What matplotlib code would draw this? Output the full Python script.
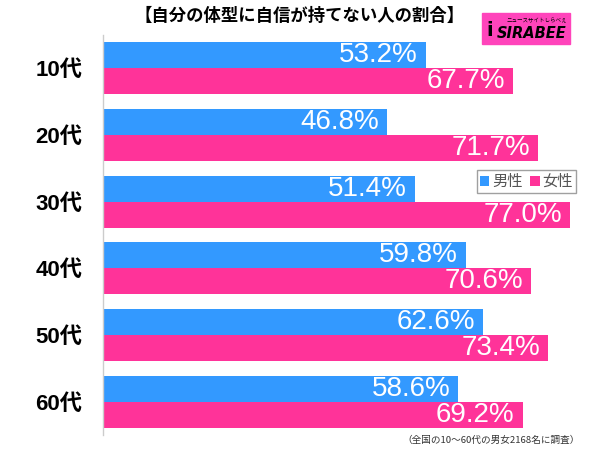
import matplotlib.pyplot as plt
import matplotlib.patches as mpatches
import numpy as np

plt.rcParams['font.family'] = ['Noto Sans CJK JP', 'DejaVu Sans']

ages   = ["10代", "20代", "30代", "40代", "50代", "60代"]
male   = [53.2, 46.8, 51.4, 59.8, 62.6, 58.6]
female = [67.7, 71.7, 77.0, 70.6, 73.4, 69.2]

title   = "【自分の体型に自信が持てない人の割合】"
note    = "（全国の10～60代の男女2168名に調査）"
c_male   = "#3399FF"
c_female = "#FF3399"

fig = plt.figure(figsize=(6, 4.49), dpi=100)
ax = fig.add_axes([103 / 600, 1 - 435 / 449, 485 / 600, 400 / 449])

y = np.arange(len(ages))
h = 0.39
ax.barh(y - h / 2, male, height=h, color=c_male, label="男性")
ax.barh(y + h / 2, female, height=h, color=c_female, label="女性")

for i in range(len(ages)):
    ax.text(male[i] - 1.3, y[i] - h / 2, f"{male[i]:.1f}%", color="white",
            ha="right", va="center", fontsize=20, family="Liberation Sans")
    ax.text(female[i] - 1.3, y[i] + h / 2, f"{female[i]:.1f}%", color="white",
            ha="right", va="center", fontsize=20, family="Liberation Sans")

ax.set_xlim(0, 80)
ax.set_ylim(len(ages) - 0.5, -0.5)
ax.set_yticks(y)
ax.set_yticklabels(ages, fontsize=16, fontweight="bold",
                   family=["Liberation Sans", "Noto Sans CJK JP"])
ax.tick_params(axis="y", length=0, pad=15)
ax.set_xticks([])
for s in ["top", "right", "bottom"]:
    ax.spines[s].set_visible(False)
ax.spines["left"].set_color("#cccccc")
ax.spines["left"].set_linewidth(1)

leg = ax.legend(loc="upper left", bbox_to_anchor=(374 / 485, 1 - 135 / 400),
                ncol=2, fontsize=11, frameon=True, fancybox=False,
                handlelength=0.6, handleheight=0.6, handletextpad=0.2,
                columnspacing=0.5, borderpad=0.2, borderaxespad=0)
leg.get_frame().set_edgecolor("#888888")
leg.get_frame().set_linewidth(1)
for t in leg.get_texts():
    t.set_color("#555555")

fig.text(0.5, 1 - 16 / 449, title, ha="center", va="center",
         fontsize=12.5, fontweight="bold")
fig.text(580 / 600, 1 - 440 / 449, note, ha="right", va="center",
         fontsize=6.9, color="#333333")

# logo
logo = mpatches.Rectangle((482 / 600, 1 - 44 / 449), 88 / 600, 31 / 449,
                          transform=fig.transFigure, color="#FF44BB")
fig.patches.append(logo)
fig.text(532 / 600, 1 - 33 / 449, "SIRABEE", ha="center", va="center",
         fontsize=10.5, fontweight="bold", style="italic", family="DejaVu Sans")
fig.text(537 / 600, 1 - 21 / 449, "ニュースサイトしらべぇ", ha="center",
         va="center", fontsize=4)
fig.text(490 / 600, 1 - 31 / 449, "i", ha="center", va="center",
         fontsize=14, fontweight="bold", family="DejaVu Sans")

fig.savefig("out.png", dpi=100)
